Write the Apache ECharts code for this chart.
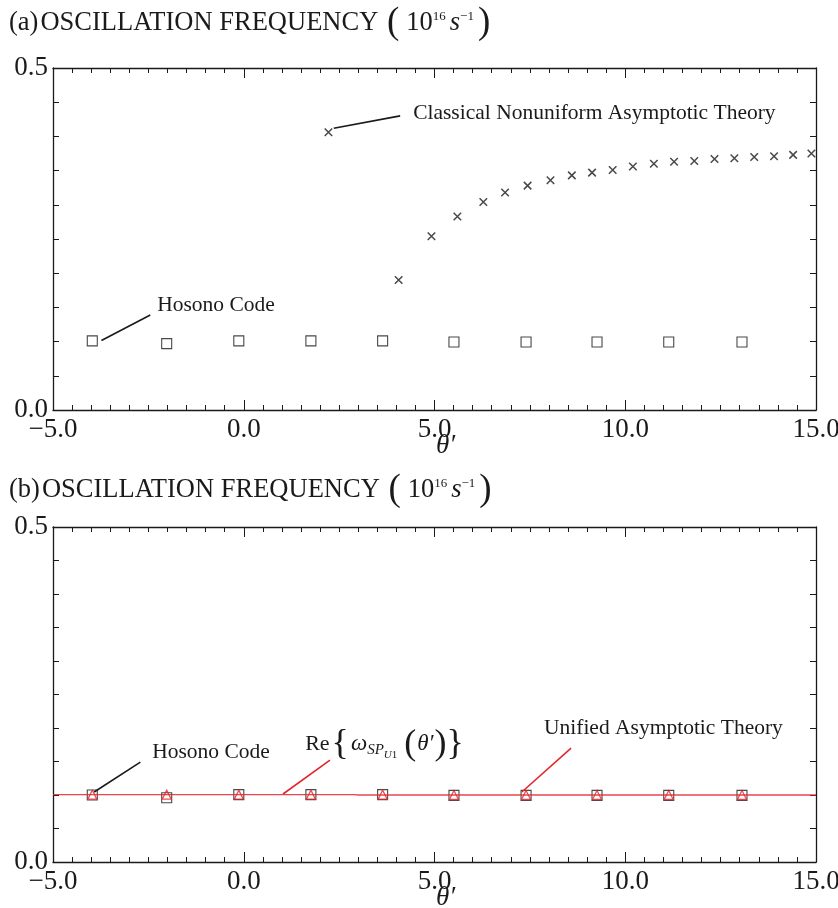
<!DOCTYPE html>
<html>
<head>
<meta charset="utf-8">
<script src="https://cdn.jsdelivr.net/npm/echarts@6/dist/echarts.min.js"></script>
<style>
  html, body { margin: 0; padding: 0; background: #fff; }
  #chart { width: 838px; height: 908px; }
</style>
</head>
<body>
<div id="chart"></div>
<script>
// Hosono code results (squares), shared abscissae for both panels
const hosonoTheta = [-3.97, -2.02, -0.13, 1.76, 3.64, 5.51, 7.40, 9.26, 11.14, 13.06];
const hosonoFreqA = [0.101, 0.097, 0.101, 0.101, 0.101, 0.0995, 0.0995, 0.0995, 0.0995, 0.0995];
const hosonoFreqB = [0.1, 0.096, 0.1005, 0.1005, 0.1005, 0.0995, 0.0995, 0.0995, 0.0995, 0.0995];

// Classical nonuniform asymptotic theory (crosses)
const classicalTheta = [2.22, 4.06, 4.92, 5.60, 6.28, 6.85, 7.44, 8.04, 8.60, 9.13, 9.67,
                        10.20, 10.75, 11.28, 11.81, 12.34, 12.86, 13.38, 13.90, 14.40, 14.88];
const classicalFreq = [0.406, 0.190, 0.254, 0.283, 0.304, 0.318, 0.328, 0.336, 0.343, 0.347, 0.351,
                       0.356, 0.360, 0.363, 0.364, 0.367, 0.368, 0.370, 0.371, 0.373, 0.375];

// Unified asymptotic theory (triangles) at the Hosono abscissae
const unifiedFreq = [0.1005, 0.1005, 0.1005, 0.1005, 0.1005, 0.1, 0.1, 0.1, 0.1, 0.1];

// Re{omega_SP_U1(theta')} curve
const reCurveTheta = [-5, 2.9, 3.0, 15];
const reCurveFreq = [0.1005, 0.1005, 0.0999, 0.0999];

// Axis ranges and tick steps
const thetaRange = [-5, 15];
const thetaStep = 5;
const freqRange = [0, 0.5];
const freqStep = 0.5;

const SERIF = "'Liberation Serif', 'Times New Roman', serif";
const INK = '#1a1a1a';
const RED = '#e3262d';

const pairs = (xs, ys) => xs.map((x, i) => [x, ys[i]]);
const fmt = v => (v < 0 ? '\u2212' : '') + Math.abs(v).toFixed(1);

function xAxisFor(grid, position) {
  const bottom = position === 'bottom';
  return {
    type: 'value', gridIndex: grid, position,
    min: thetaRange[0], max: thetaRange[1], interval: thetaStep,
    name: bottom ? '\u03b8\u2032' : '',
    nameLocation: 'middle', nameGap: 22, nameMoveOverlap: false,
    nameTextStyle: { fontFamily: SERIF, fontStyle: 'italic', fontSize: 27, color: INK, padding: [0, 0, 0, 22] },
    axisLine: { show: true, onZero: false, lineStyle: { color: INK, width: 1.3 } },
    axisTick: { show: true, inside: true, length: 10, lineStyle: { color: INK, width: 1 } },
    minorTick: { show: true, splitNumber: 10, length: 5, lineStyle: { color: INK, width: 1 } },
    axisLabel: { show: bottom, formatter: fmt, fontFamily: SERIF, fontSize: 27, color: INK, margin: 6 },
    splitLine: { show: false }, minorSplitLine: { show: false }
  };
}

function yAxisFor(grid, position) {
  const left = position === 'left';
  return {
    type: 'value', gridIndex: grid, position,
    min: freqRange[0], max: freqRange[1], interval: freqStep,
    axisLine: { show: true, onZero: false, lineStyle: { color: INK, width: 1.3 } },
    axisTick: { show: true, inside: true, length: 6, lineStyle: { color: INK, width: 1 } },
    minorTick: { show: true, splitNumber: 10, length: 6, lineStyle: { color: INK, width: 1 } },
    axisLabel: { show: left, formatter: v => v.toFixed(1), fontFamily: SERIF, fontSize: 27, color: INK, margin: 5 },
    splitLine: { show: false }, minorSplitLine: { show: false }
  };
}

// leader line between two data-space points
const leader = (a, b) => [{ coord: a }, { coord: b }];
// text anchored at a data-space point (left edge, vertical middle)
const note = (at, text, rich, size) => ({
  coord: at, symbol: 'circle', symbolSize: 0,
  label: {
    show: true, position: [0, 0], align: 'left', verticalAlign: 'middle',
    formatter: text, fontFamily: SERIF, fontSize: size || 21.5, color: INK, rich: rich || {}
  }
});

const titleRich = {
  t: { fontFamily: SERIF, fontSize: 26.5, color: INK, padding: [0, 2, 0, 0] },
  n: { fontFamily: SERIF, fontSize: 26.5, color: INK, padding: [0, 0, 0, 7] },
  sup: { fontFamily: SERIF, fontSize: 13, color: INK, padding: [0, 4, 14, 0] },
  it: { fontFamily: SERIF, fontStyle: 'italic', fontSize: 26.5, color: INK }
};
const titleText = tag =>
  '{t|(' + tag + ')}{t|OSCILLATION FREQUENCY }({n|10}{sup|16}{it|s}{sup|\u22121})';

const reRich = {
  r: { fontFamily: SERIF, fontSize: 22, color: INK, padding: [0, 2, 0, 0] },
  w: { fontFamily: SERIF, fontStyle: 'italic', fontSize: 23, color: INK, padding: [0, 0, 0, 2] },
  s1: { fontFamily: SERIF, fontStyle: 'italic', fontSize: 15, color: INK, padding: [12, 0, 0, 0] },
  s2: { fontFamily: SERIF, fontStyle: 'italic', fontSize: 11, color: INK, padding: [22, 0, 0, 0] },
  s3: { fontFamily: SERIF, fontSize: 11, color: INK, padding: [22, 7, 0, 0] },
  th: { fontFamily: SERIF, fontStyle: 'italic', fontSize: 23, color: INK, padding: [0, 1, 0, 1] }
};

const option = {
  animation: false,
  backgroundColor: '#fff',
  title: [
    { text: titleText('a'), left: 9, top: 5, padding: 0,
      textStyle: { fontFamily: SERIF, fontSize: 37, fontWeight: 'normal', color: INK, rich: titleRich } },
    { text: titleText('b'), left: 9, top: 472, padding: 0,
      textStyle: { fontFamily: SERIF, fontSize: 37, fontWeight: 'normal', color: INK, rich: titleRich } }
  ],
  grid: [
    { left: 53, right: 22, top: 68, height: 342, outerBoundsMode: 'none', containLabel: false },
    { left: 53, right: 22, top: 527, height: 335, outerBoundsMode: 'none', containLabel: false }
  ],
  xAxis: [xAxisFor(0, 'bottom'), xAxisFor(0, 'top'), xAxisFor(1, 'bottom'), xAxisFor(1, 'top')],
  yAxis: [yAxisFor(0, 'left'), yAxisFor(0, 'right'), yAxisFor(1, 'left'), yAxisFor(1, 'right')],
  series: [
    {
      name: 'Classical Nonuniform Asymptotic Theory', type: 'scatter', xAxisIndex: 0, yAxisIndex: 0,
      data: pairs(classicalTheta, classicalFreq),
      symbol: 'path://M0,0L10,10M10,0L0,10', symbolSize: 7.5,
      itemStyle: { color: 'rgba(0,0,0,0)', borderColor: INK, borderWidth: 1.5 },
      markLine: { silent: true, symbol: ['none', 'none'], label: { show: false },
        lineStyle: { type: 'solid', color: INK, width: 1.6 },
        data: [leader([2.36, 0.412], [4.1, 0.43])] },
      markPoint: { silent: true, data: [note([4.44, 0.434], 'Classical Nonuniform Asymptotic Theory')] }
    },
    {
      name: 'Hosono Code', type: 'scatter', xAxisIndex: 0, yAxisIndex: 0,
      data: pairs(hosonoTheta, hosonoFreqA),
      symbol: 'rect', symbolSize: 10,
      itemStyle: { color: 'rgba(0,0,0,0)', borderColor: INK, borderWidth: 1.1 },
      markLine: { silent: true, symbol: ['none', 'none'], label: { show: false },
        lineStyle: { type: 'solid', color: INK, width: 1.6 },
        data: [leader([-3.73, 0.1015], [-2.45, 0.139])] },
      markPoint: { silent: true, data: [note([-2.27, 0.1526], 'Hosono Code')] }
    },
    {
      name: 'Re', type: 'line', xAxisIndex: 2, yAxisIndex: 2,
      data: pairs(reCurveTheta, reCurveFreq),
      symbol: 'none', lineStyle: { color: RED, width: 1.4, opacity: 0.85 },
      markLine: { silent: true, symbol: ['none', 'none'], label: { show: false },
        lineStyle: { type: 'solid', color: RED, width: 1.6 },
        data: [leader([1.03, 0.1015], [2.26, 0.152])] },
      markPoint: { silent: true, data: [note([1.61, 0.176],
        '{r|Re}{{w|\u03c9}{s1|SP}{s2|U}{s3|1}({th|\u03b8\u2032})}', reRich, 36)] }
    },
    {
      name: 'Hosono Code B', type: 'scatter', xAxisIndex: 2, yAxisIndex: 2,
      data: pairs(hosonoTheta, hosonoFreqB),
      symbol: 'rect', symbolSize: 10,
      itemStyle: { color: 'rgba(0,0,0,0)', borderColor: INK, borderWidth: 1.1 },
      markLine: { silent: true, symbol: ['none', 'none'], label: { show: false },
        lineStyle: { type: 'solid', color: INK, width: 1.6 },
        data: [leader([-3.92, 0.1045], [-2.71, 0.149])] },
      markPoint: { silent: true, data: [note([-2.4, 0.163], 'Hosono Code')] }
    },
    {
      name: 'Unified Asymptotic Theory', type: 'scatter', xAxisIndex: 2, yAxisIndex: 2,
      data: pairs(hosonoTheta, unifiedFreq),
      symbol: 'triangle', symbolSize: 9,
      itemStyle: { color: 'rgba(0,0,0,0)', borderColor: RED, borderWidth: 1.3 },
      markLine: { silent: true, symbol: ['none', 'none'], label: { show: false },
        lineStyle: { type: 'solid', color: RED, width: 1.6 },
        data: [leader([7.29, 0.1045], [8.58, 0.17])] },
      markPoint: { silent: true, data: [note([7.87, 0.2], 'Unified Asymptotic Theory')] }
    }
  ]
};

const chart = echarts.init(document.getElementById('chart'), null, { renderer: 'canvas' });
chart.setOption(option);
</script>
</body>
</html>
